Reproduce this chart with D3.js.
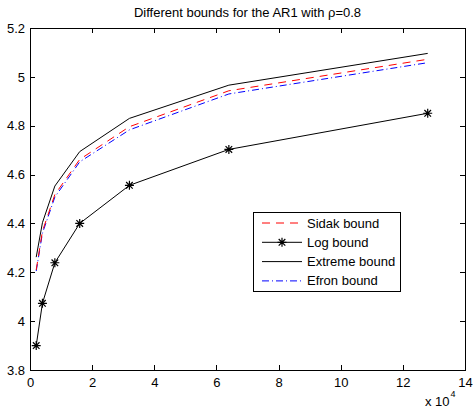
<!DOCTYPE html>
<html>
<head>
<meta charset="utf-8">
<script src="https://cdn.jsdelivr.net/npm/d3@7"></script>
<style>
  body { margin: 0; background: #fff; }
  svg { display: block; font-family: "Liberation Sans", Arial, Helvetica, sans-serif; }
</style>
</head>
<body>
<svg id="chart" width="473" height="410"></svg>
<script>
// sample sizes and the four bounds
var nValues = [2000, 4000, 8000, 16000, 32000, 64000, 128000];
var sidak = [4.21, 4.368, 4.518, 4.662, 4.796, 4.943, 5.072];
var logBound = [3.90, 4.073, 4.239, 4.40, 4.556, 4.703, 4.851];
var extreme = [4.262, 4.403, 4.553, 4.694, 4.830, 4.966, 5.096];
var efron = [4.205, 4.36, 4.508, 4.652, 4.783, 4.930, 5.058];

var xTicks = [0, 20000, 40000, 60000, 80000, 100000, 120000, 140000];
var yTicks = [3.8, 4.0, 4.2, 4.4, 4.6, 4.8, 5.0, 5.2];
var legendLabels = ['Sidak bound', 'Log bound', 'Extreme bound', 'Efron bound'];

// plot box (window.top is reserved, so use other names)
var boxLeft = 30, boxRight = 465, boxTop = 28, boxBottom = 370;

var svg = d3.select('#chart');

var x = d3.scaleLinear().domain([0, 140000]).range([boxLeft, boxRight]);
var y = d3.scaleLinear().domain([3.8, 5.2]).range([boxBottom, boxTop]);

// axes, ticks pointing inward, like matlab
function styleAxis(g) {
	g.selectAll('path').attr('stroke', '#000').attr('shape-rendering', 'crispEdges');
	g.selectAll('line').attr('stroke', '#000').attr('shape-rendering', 'crispEdges');
	g.selectAll('text').attr('fill', '#000').style('font-size', '13px')
		.style('font-family', '"Liberation Sans", Arial, Helvetica, sans-serif');
}

svg.append('g')
	.attr('transform', 'translate(0,' + boxBottom + ')')
	.call(d3.axisBottom(x).tickValues(xTicks).tickSize(-5).tickSizeOuter(0).tickPadding(8)
		.tickFormat(function(d) { return d / 10000; }))
	.call(styleAxis);

svg.append('g')
	.attr('transform', 'translate(0,' + boxTop + ')')
	.call(d3.axisTop(x).tickValues(xTicks).tickSize(-5).tickSizeOuter(0).tickFormat(''))
	.call(styleAxis);

svg.append('g')
	.attr('transform', 'translate(' + boxLeft + ',0)')
	.call(d3.axisLeft(y).tickValues(yTicks).tickSize(-5).tickSizeOuter(0).tickPadding(5)
		.tickFormat(function(d) { return String(+d.toFixed(1)); }))
	.call(styleAxis);

svg.append('g')
	.attr('transform', 'translate(' + boxRight + ',0)')
	.call(d3.axisRight(y).tickValues(yTicks).tickSize(-5).tickSizeOuter(0).tickFormat(''))
	.call(styleAxis);

var series = [
	{ values: sidak, color: '#ff0000', dash: '8,6' },
	{ values: logBound, color: '#000000', dash: null, star: true },
	{ values: extreme, color: '#000000', dash: null },
	{ values: efron, color: '#0000ff', dash: '7,3,1,3' }
];

var line = d3.line()
	.x(function(d) { return x(d[0]); })
	.y(function(d) { return y(d[1]); });

function starPath(cx, cy) {
	var r = 4.5, q = 3.3;
	return 'M' + (cx - r) + ',' + cy + 'H' + (cx + r) +
		'M' + cx + ',' + (cy - r) + 'V' + (cy + r) +
		'M' + (cx - q) + ',' + (cy - q) + 'L' + (cx + q) + ',' + (cy + q) +
		'M' + (cx - q) + ',' + (cy + q) + 'L' + (cx + q) + ',' + (cy - q);
}

// draw extreme and log first so the coloured lines sit above
[2, 1, 3, 0].forEach(function(i) {
	var s = series[i];
	var pts = nValues.map(function(n, j) { return [n, s.values[j]]; });
	svg.append('path')
		.attr('d', line(pts))
		.attr('fill', 'none')
		.attr('stroke', s.color)
		.attr('stroke-width', 1)
		.attr('stroke-dasharray', s.dash);
	if (s.star) {
		svg.selectAll('.star')
			.data(pts)
			.enter()
			.append('path')
			.attr('class', 'star')
			.attr('d', function(d) { return starPath(x(d[0]), y(d[1])); })
			.attr('stroke', '#000')
			.attr('stroke-width', 1.2)
			.attr('fill', 'none');
	}
});

// title
svg.append('text')
	.attr('x', (boxLeft + boxRight) / 2)
	.attr('y', 17)
	.attr('text-anchor', 'middle')
	.style('font-size', '13px')
	.text('Different bounds for the AR1 with \u03c1=0.8');

// exponent label
var expo = svg.append('text')
	.attr('x', 425)
	.attr('y', 406)
	.style('font-size', '13px');
expo.append('tspan').text('x 10');
expo.append('tspan').attr('dy', -9).attr('dx', 1).style('font-size', '9px').text('4');

// legend
var lg = svg.append('g');
lg.append('rect')
	.attr('x', 253.5).attr('y', 212.5)
	.attr('width', 147).attr('height', 79)
	.attr('fill', '#fff').attr('stroke', '#000');

legendLabels.forEach(function(label, i) {
	var s = series[i];
	var ly = 223 + i * 19.3;
	lg.append('line')
		.attr('x1', 262).attr('x2', 302)
		.attr('y1', ly).attr('y2', ly)
		.attr('stroke', s.color)
		.attr('stroke-dasharray', s.dash);
	if (s.star) {
		lg.append('path').attr('d', starPath(282, ly))
			.attr('stroke', '#000').attr('stroke-width', 1.2).attr('fill', 'none');
	}
	lg.append('text')
		.attr('x', 307).attr('y', ly)
		.attr('dy', '0.35em')
		.style('font-size', '13px')
		.text(label);
});
</script>
</body>
</html>
